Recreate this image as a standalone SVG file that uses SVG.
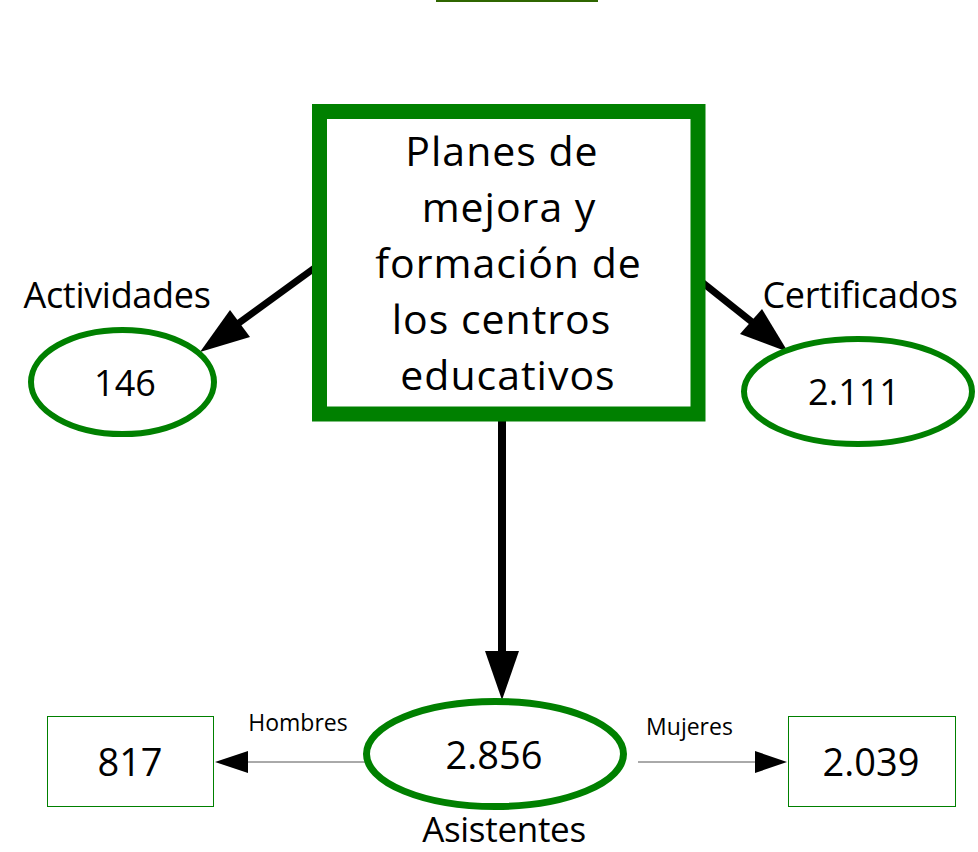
<svg xmlns="http://www.w3.org/2000/svg" width="978" height="852" viewBox="0 0 978 852">
<style>
text{font-family:"Open Sans","DejaVu Sans",sans-serif;fill:#000;text-anchor:middle}
.main{font-size:41px;letter-spacing:1px}
.val{font-size:36px}
.lbl{font-size:36px;letter-spacing:-0.3px}
.small{font-size:23px}
.ell{fill:#fff;stroke:#008000}
.box{fill:#fff;stroke:#008000;stroke-width:1}
.thick{stroke:#000;stroke-width:7;fill:none}
.thin{stroke:#555;stroke-width:1;fill:none}
.head{fill:#000}
</style>
<rect x="0" y="0" width="978" height="852" fill="#fff"/>
<rect x="436" y="0" width="162" height="2" fill="#2f6600"/>
<g id="connectors">
<line class="thick" x1="320" y1="264" x2="232" y2="328"/>
<polygon class="head" points="200,352 230,310 250,337"/>
<line class="thick" x1="698" y1="279" x2="757" y2="326"/>
<polygon class="head" points="788,352 740,334 762,309"/>
<line class="thick" x1="502" y1="414" x2="502" y2="655" style="stroke-width:8"/>
<polygon class="head" points="502,700 485,651 519,651"/>
<line class="thin" x1="365" y1="762" x2="240" y2="762"/>
<polygon class="head" points="215,762 248,751 248,773"/>
<line class="thin" x1="638" y1="762" x2="760" y2="762"/>
<polygon class="head" points="787,762 755,751 755,773"/>
</g>
<g id="planes">
<rect x="319.5" y="111.5" width="378.5" height="302.5" fill="#fff" stroke="#008000" stroke-width="15"/>
<text class="main" x="502" y="166">Planes de</text>
<text class="main" x="509" y="222">mejora y</text>
<text class="main" x="508.5" y="278">formación de</text>
<text class="main" x="501.5" y="334">los centros</text>
<text class="main" x="508" y="390">educativos</text>
</g>
<g id="actividades">
<ellipse class="ell" cx="122.5" cy="382" rx="91.5" ry="52" stroke-width="6"/>
<text class="val" x="125" y="396">146</text>
<text class="lbl" x="117" y="308">Actividades</text>
</g>
<g id="certificados">
<ellipse class="ell" cx="858" cy="391.5" rx="114" ry="52.5" stroke-width="6"/>
<text class="val" x="854" y="405">2.111</text>
<text class="lbl" x="860" y="308">Certificados</text>
</g>
<g id="asistentes">
<ellipse class="ell" cx="495" cy="754" rx="128.5" ry="52.5" stroke-width="7"/>
<text class="val" x="494" y="769" style="font-size:38px">2.856</text>
<text class="lbl" x="504" y="842" style="font-size:35px">Asistentes</text>
</g>
<g id="hombres">
<rect class="box" x="47.5" y="716.5" width="166" height="90"/>
<text class="val" x="130" y="776" style="font-size:38px">817</text>
<text class="small" x="298" y="731">Hombres</text>
</g>
<g id="mujeres">
<rect class="box" x="788.5" y="716.5" width="167" height="90"/>
<text class="val" x="871" y="776" style="font-size:38px">2.039</text>
<text class="small" x="689.5" y="735">Mujeres</text>
</g>
</svg>
